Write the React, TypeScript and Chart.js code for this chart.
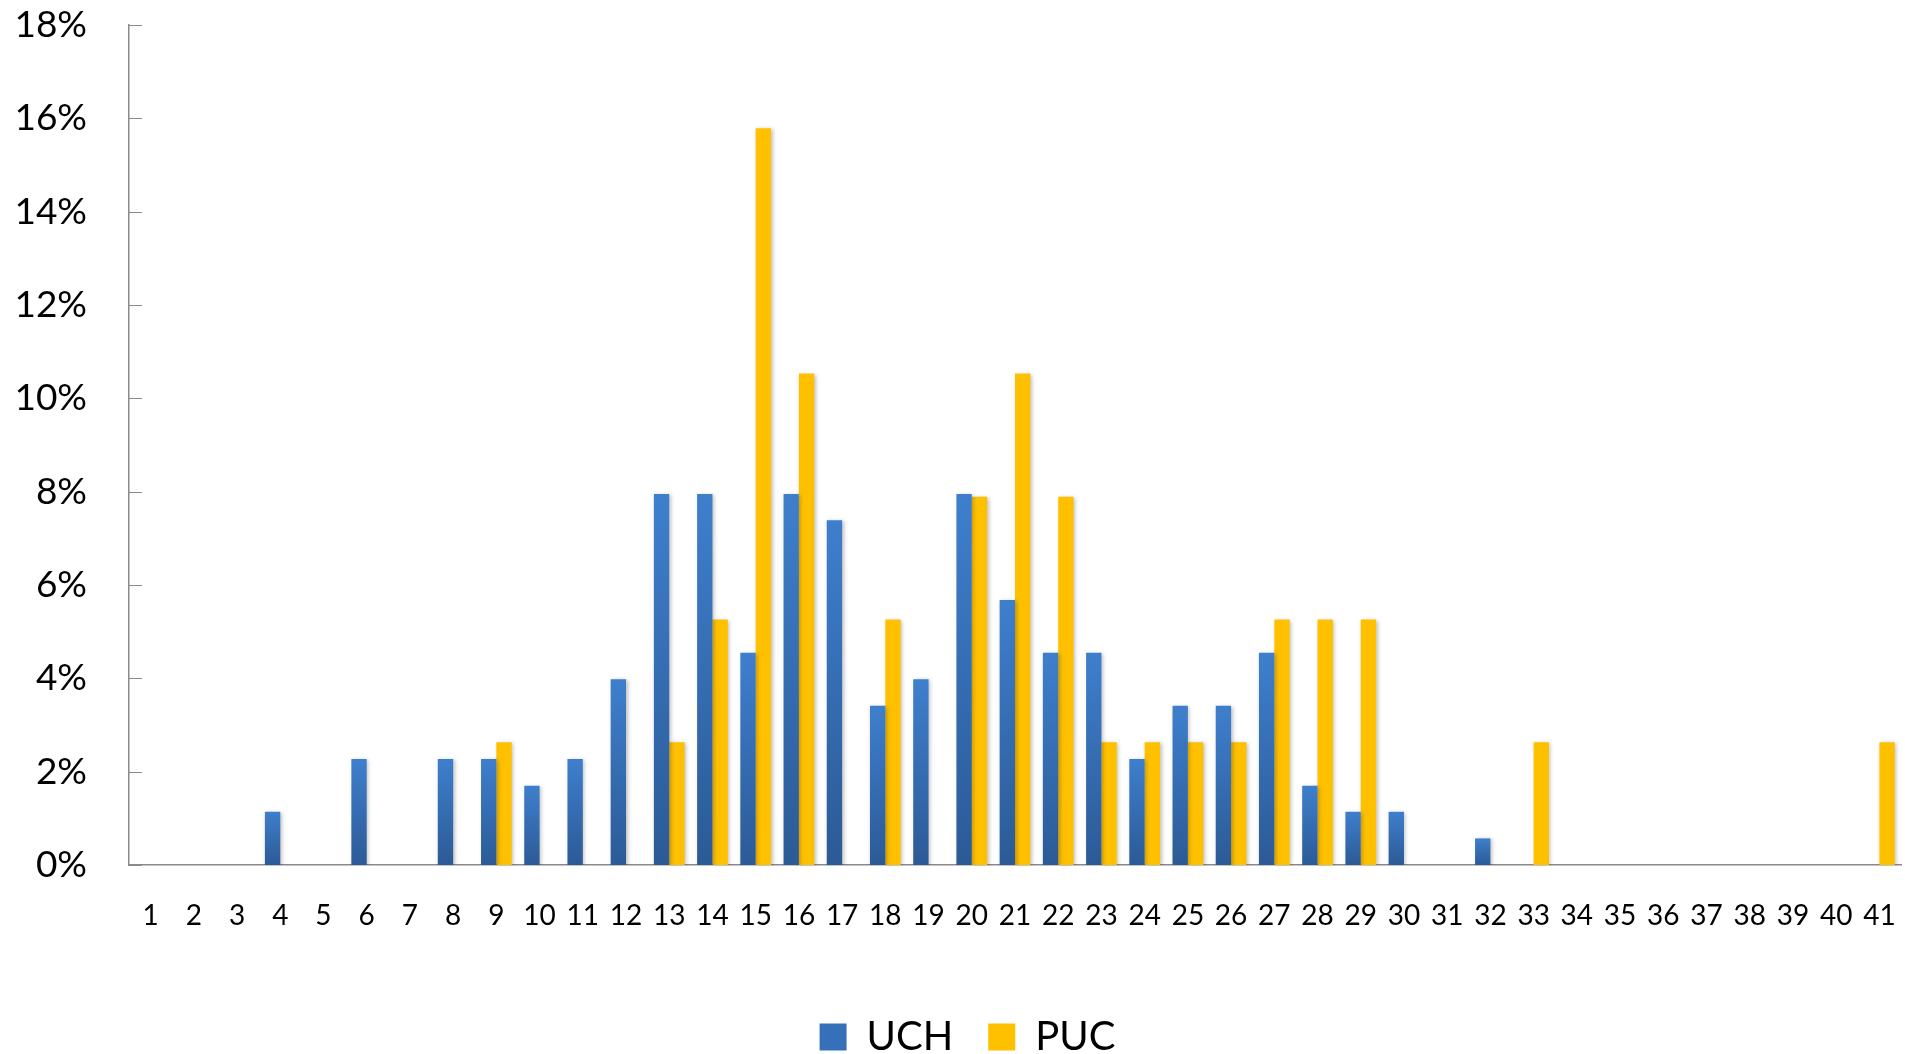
import React, { useEffect, useRef } from "react";
import { Chart, registerables } from "chart.js";

Chart.register(...registerables);

const categories = ["1","2","3","4","5","6","7","8","9","10","11","12","13","14","15","16","17","18","19","20","21","22","23","24","25","26","27","28","29","30","31","32","33","34","35","36","37","38","39","40","41"];

// percentages
const uchValues = [0,0,0,1.14,0,2.27,0,2.27,2.27,1.70,2.27,3.98,7.95,7.95,4.55,7.95,7.39,3.41,3.98,7.95,5.68,4.55,4.55,2.27,3.41,3.41,4.55,1.70,1.14,1.14,0,0.57,0,0,0,0,0,0,0,0,0];
const pucValues = [0,0,0,0,0,0,0,0,2.63,0,0,0,2.63,5.26,15.79,10.53,0,5.26,0,7.89,10.53,7.89,2.63,2.63,2.63,2.63,5.26,5.26,5.26,0,0,0,2.63,0,0,0,0,0,0,0,2.63];

const yTicks = [0, 2, 4, 6, 8, 10, 12, 14, 16, 18];

const BLUE_TOP = "#3E7FCD";
const BLUE_BOTTOM = "#2C5A96";
const BLUE_MID = "#3570B8";
const YELLOW = "#FFC000";
const AXIS = "#8A8A8A";
const FONT = "Lato, 'Open Sans', sans-serif";

export default function App() {
  const ref = useRef<HTMLCanvasElement | null>(null);

  useEffect(() => {
    document.body.style.margin = "0";
    const canvas = ref.current;
    if (!canvas) return;

    const insideTicks = {
      id: "insideTicks",
      afterDraw(chart: any) {
        const { ctx, chartArea, scales } = chart;
        const y = scales.y;
        ctx.save();
        ctx.strokeStyle = AXIS;
        ctx.lineWidth = 1;
        y.ticks.forEach((t: any) => {
          const py = Math.round(y.getPixelForValue(t.value)) + 0.5;
          ctx.beginPath();
          ctx.moveTo(chartArea.left, py);
          ctx.lineTo(chartArea.left + 13, py);
          ctx.stroke();
        });
        ctx.restore();
      },
    };

    const legendShift = {
      id: "legendShift",
      afterLayout(chart: any) {
        const lg = chart.legend;
        if (lg) {
          lg.left += 17;
          lg.right += 17;
        }
      },
    };

    const barShadow = {
      id: "barShadow",
      beforeDatasetsDraw(chart: any) {
        const ctx = chart.ctx;
        ctx.save();
        ctx.shadowColor = "rgba(0,0,0,0.25)";
        ctx.shadowBlur = 4;
        ctx.shadowOffsetX = 1.5;
        ctx.shadowOffsetY = 1;
      },
      afterDatasetsDraw(chart: any) {
        chart.ctx.restore();
      },
    };

    const blueGradient = (c: any) => {
      const chart = c.chart;
      const { ctx, chartArea, scales } = chart;
      if (!chartArea || c.type !== "data" || !scales.y) return BLUE_MID;
      const top = scales.y.getPixelForValue(c.raw);
      const bottom = scales.y.getPixelForValue(0);
      if (bottom - top < 1) return BLUE_MID;
      const g = ctx.createLinearGradient(0, top, 0, bottom);
      g.addColorStop(0, BLUE_TOP);
      g.addColorStop(1, BLUE_BOTTOM);
      return g;
    };

    const chart = new Chart(canvas, {
      type: "bar",
      data: {
        labels: categories,
        datasets: [
          { label: "UCH", data: uchValues, backgroundColor: blueGradient, borderWidth: 0 },
          { label: "PUC", data: pucValues, backgroundColor: YELLOW, borderWidth: 0 },
        ],
      },
      options: {
        animation: false,
        responsive: false,
        maintainAspectRatio: false,
        datasets: {
          bar: { categoryPercentage: 0.71, barPercentage: 1 },
        },
        layout: { padding: { left: 0, right: 4, top: 25, bottom: -13 } },
        plugins: {
          tooltip: { enabled: false },
          legend: {
            display: true,
            position: "bottom",
            labels: {
              boxWidth: 27,
              boxHeight: 27,
              padding: 35,
              color: "#000",
              font: { family: FONT, size: 40 },
              generateLabels: (ch: any) => {
                const items = Chart.defaults.plugins.legend.labels.generateLabels(ch);
                return items.map((it: any, i: number) => ({
                  ...it,
                  fillStyle: i === 0 ? BLUE_MID : YELLOW,
                  lineWidth: 0,
                  strokeStyle: "rgba(0,0,0,0)",
                }));
              },
            },
          },
        },
        scales: {
          x: {
            grid: { display: false, drawTicks: false },
            border: { display: true, color: AXIS, width: 1.5 },
            ticks: {
              color: "#000",
              font: { family: FONT, size: 28 },
              padding: 34,
              maxRotation: 0,
              autoSkip: false,
            },
            afterFit: (s: any) => {
              s.height = 117;
              s.paddingLeft = 0;
              s.paddingRight = 0;
            },
          },
          y: {
            min: 0,
            max: 18,
            afterBuildTicks: (s: any) => {
              s.ticks = yTicks.map((v) => ({ value: v }));
            },
            grid: { display: false, drawTicks: false },
            border: { display: true, color: AXIS, width: 1.5 },
            ticks: {
              color: "#000",
              font: { family: FONT, size: 37 },
              padding: 42,
              callback: (v: any) => `${v}%`,
            },
            afterFit: (s: any) => {
              s.width = 129;
              s.paddingTop = 0;
              s.paddingBottom = 0;
            },
          },
        },
      },
      plugins: [barShadow, insideTicks, legendShift],
    } as any);

    return () => chart.destroy();
  }, []);

  return <canvas ref={ref} width={1905} height={1054} style={{ display: "block" }} />;
}
